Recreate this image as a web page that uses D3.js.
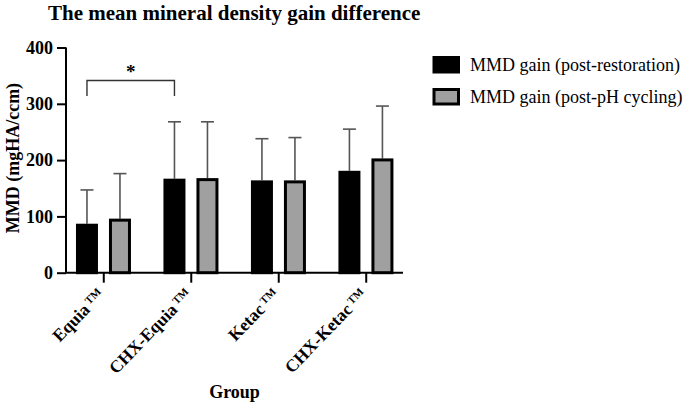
<!DOCTYPE html>
<html><head><meta charset="utf-8">
<script src="https://cdn.jsdelivr.net/npm/d3@7"></script>
<style>body{margin:0;background:#fff}</style>
</head><body>
<svg id="c" width="685" height="405"></svg>
<script>
const categories = ["Equia", "CHX-Equia", "Ketac", "CHX-Ketac"];
const seriesNames = ["MMD gain (post-restoration)", "MMD gain (post-pH cycling)"];
const postRestoration = [87, 167, 164, 181];
const postRestorationSD = [60, 101, 74, 74];
const postPH = [96, 168, 164, 203];
const postPHSD = [80, 100, 76, 93];
const yTicks = [0, 100, 200, 300, 400];

(function () {
const font = "'Liberation Serif','Times New Roman',serif";
const svg = d3.select("#c");
const pl = 66, pr = 403, pt = 47.5, pb = 272.7;
const x = d3.scalePoint().domain(categories).range([pl, pr]).padding(0.426);
const y = d3.scaleLinear().domain([0, 400]).range([pb, pt]);
const colors = ["#000000", "#a0a0a0"];
const offsets = [-16.3, 16.7];
const bw = 22;

svg.append("text").attr("x", 48).attr("y", 20).attr("font-family", font)
  .attr("font-weight", "bold").attr("font-size", 21).text("The mean mineral density gain difference");

// y axis
const ya = svg.append("g").attr("transform", `translate(${pl},0)`)
  .call(d3.axisLeft(y).tickValues(yTicks).tickSize(9).tickPadding(4).tickFormat(d3.format("d")));
ya.select(".domain").attr("stroke-width", 2).attr("d", `M0,${pt}V${pb}`);
ya.selectAll(".tick line").attr("stroke-width", 2);
ya.selectAll(".tick text").attr("font-family", font).attr("font-weight", "bold").attr("font-size", 18).attr("fill", "#000");

// x axis
const xa = svg.append("g").attr("transform", `translate(0,${pb})`)
  .call(d3.axisBottom(x).tickSize(10).tickFormat(""));
xa.select(".domain").attr("stroke-width", 2).attr("d", `M${pl},0H${pr}`);
xa.selectAll(".tick line").attr("stroke-width", 2);

// x labels
categories.forEach(c => {
  const t = svg.append("text").attr("font-family", font).attr("font-weight", "bold").attr("font-size", 17.5)
    .attr("text-anchor", "end")
    .attr("transform", `translate(${x(c) + 2},${pb + 23}) rotate(-46)`);
  t.append("tspan").text(c);
  t.append("tspan").attr("font-size", 11).attr("dx", 3).attr("dy", -5).text("TM");
});

// bars
const series = [[postRestoration, postRestorationSD], [postPH, postPHSD]];
series.forEach((s, si) => {
  const g = svg.append("g");
  categories.forEach((c, i) => {
    const cx = x(c) + offsets[si];
    const v = s[0][i], sd = s[1][i];
    g.append("line").attr("x1", cx).attr("x2", cx).attr("y1", y(v)).attr("y2", y(v + sd))
      .attr("stroke", "#555").attr("stroke-width", 1.6);
    g.append("line").attr("x1", cx - 6.5).attr("x2", cx + 6.5).attr("y1", y(v + sd)).attr("y2", y(v + sd))
      .attr("stroke", "#555").attr("stroke-width", 1.6);
    g.append("rect").attr("x", cx - bw / 2 + 1.5).attr("width", bw - 3)
      .attr("y", y(v) + 1.5).attr("height", y(0) - y(v) - 1.5)
      .attr("fill", colors[si]).attr("stroke", "#000").attr("stroke-width", 3);
  });
});

// significance bracket
const bx1 = x(categories[0]) + offsets[0], bx2 = x(categories[1]) + offsets[0];
svg.append("path").attr("d", `M${bx1},96V80.5H${bx2}V96`).attr("fill", "none")
  .attr("stroke", "#333").attr("stroke-width", 1.4);
svg.append("text").attr("x", (bx1 + bx2) / 2).attr("y", 78).attr("text-anchor", "middle")
  .attr("font-family", font).attr("font-weight", "bold").attr("font-size", 19).text("*");

// axis titles
svg.append("text").attr("transform", `translate(19,${(pt + pb) / 2 - 2}) rotate(-90)`)
  .attr("text-anchor", "middle").attr("font-family", font).attr("font-weight", "bold").attr("font-size", 18)
  .text("MMD (mgHA/ccm)");
svg.append("text").attr("x", (pl + pr) / 2).attr("y", 398).attr("text-anchor", "middle")
  .attr("font-family", font).attr("font-weight", "bold").attr("font-size", 18).text("Group");

// legend
seriesNames.forEach((n, i) => {
  const ly = 56 + i * 32;
  svg.append("rect").attr("x", 434).attr("y", ly + 1.5).attr("width", 24.5).attr("height", 14.5)
    .attr("fill", colors[i]).attr("stroke", "#000").attr("stroke-width", 3);
  svg.append("text").attr("x", 470).attr("y", ly + 14.5).attr("font-family", font).attr("font-size", 18)
    .text(n);
});
})();
</script>
</body></html>
